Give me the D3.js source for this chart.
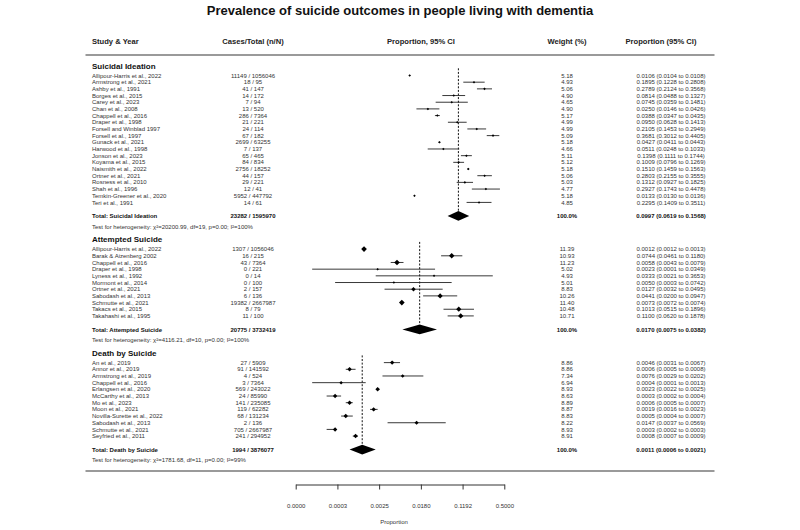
<!DOCTYPE html>
<html><head><meta charset="utf-8">
<script src="https://cdn.jsdelivr.net/npm/d3@7"></script>
<style>body{margin:0;background:#fff}svg{display:block}</style>
</head><body><svg id="c" width="800" height="530"></svg>
<script>
const title = "Prevalence of suicide outcomes in people living with dementia";
const headers = ["Study & Year", "Cases/Total (n/N)", "Proportion, 95% CI", "Weight (%)", "Proportion (95% CI)"];
const sectionNames = ["Suicidal Ideation", "Attempted Suicide", "Death by Suicide"];

// Suicidal ideation
const ideationStudies = ["Allipour-Harris et al., 2022","Armstrong et al., 2021","Ashby et al., 1991","Borges et al., 2015","Carey et al., 2023","Chan et al., 2008","Chappell et al., 2016","Draper et al., 1998","Forsell and Winblad 1997","Forsell et al., 1997","Gunack et al., 2021","Harwood et al., 1998","Jonson et al., 2023","Koyama et al., 2015","Naismith et al., 2022","Ortner et al., 2021","Rosness et al., 2010","Shah et al., 1996","Temkin-Greener et al., 2020","Teri et al., 1991"];
const ideationCases = [11149,18,41,14,7,13,286,21,24,67,2699,7,65,84,2756,44,29,12,5952,14];
const ideationTotals = [1056046,95,147,172,94,520,7364,221,114,182,63255,137,465,834,18252,157,221,41,447792,61];
const ideationWeights = [5.18,4.93,5.06,4.90,4.65,4.90,5.17,4.99,4.99,5.09,5.18,4.66,5.11,5.12,5.18,5.06,5.03,4.77,5.18,4.85];
const ideationProp = [0.0106,0.1895,0.2789,0.0814,0.0745,0.0250,0.0388,0.0950,0.2105,0.3681,0.0427,0.0511,0.1398,0.1009,0.1510,0.2803,0.1312,0.2927,0.0133,0.2295];
const ideationLower = [0.0104,0.1228,0.2124,0.0488,0.0359,0.0146,0.0347,0.0628,0.1453,0.3012,0.0411,0.0248,0.1111,0.0796,0.1459,0.2155,0.0927,0.1743,0.0130,0.1409];
const ideationUpper = [0.0108,0.2808,0.3568,0.1327,0.1481,0.0426,0.0435,0.1413,0.2949,0.4405,0.0443,0.1033,0.1744,0.1269,0.1563,0.3555,0.1825,0.4478,0.0136,0.3511];

// Attempted suicide
const attemptStudies = ["Allipour-Harris et al., 2022","Barak & Aizenberg 2002","Chappell et al., 2016","Draper et al., 1998","Lyness et al., 1992","Mormont et al., 2014","Ortner et al., 2021","Sabodash et al., 2013","Schmutte et al., 2021","Takacs et al., 2015","Takahashi et al., 1995"];
const attemptCases = [1307,16,43,0,0,0,2,6,19382,8,11];
const attemptTotals = [1056046,215,7364,221,14,100,157,136,2667987,79,100];
const attemptWeights = [11.39,10.93,11.23,5.02,4.93,5.01,8.83,10.26,11.40,10.48,10.71];
const attemptProp = [0.0012,0.0744,0.0058,0.0023,0.0333,0.0050,0.0127,0.0441,0.0073,0.1013,0.1100];
const attemptLower = [0.0012,0.0461,0.0043,0.0001,0.0021,0.0003,0.0032,0.0200,0.0072,0.0515,0.0620];
const attemptUpper = [0.0013,0.1180,0.0079,0.0349,0.3653,0.0742,0.0495,0.0947,0.0074,0.1896,0.1878];

// Death by suicide
const deathStudies = ["An et al., 2019","Annor et al., 2019","Armstrong et al., 2019","Chappell et al., 2016","Erlangsen et al., 2020","McCarthy et al., 2013","Mo et al., 2023","Moon et al., 2021","Novilla-Surette et al., 2022","Sabodash et al., 2013","Schmutte et al., 2021","Seyfried et al., 2011"];
const deathCases = [27,91,4,3,569,24,141,119,68,2,705,241];
const deathTotals = [5909,141592,524,7364,243022,85990,235085,62282,131234,136,2667987,294952];
const deathWeights = [8.86,8.86,7.34,6.94,8.93,8.63,8.89,8.87,8.83,8.22,8.93,8.91];
const deathProp = [0.0046,0.0006,0.0076,0.0004,0.0023,0.0003,0.0006,0.0019,0.0005,0.0147,0.0003,0.0008];
const deathLower = [0.0031,0.0005,0.0029,0.0001,0.0022,0.0002,0.0005,0.0016,0.0004,0.0037,0.0002,0.0007];
const deathUpper = [0.0067,0.0008,0.0202,0.0013,0.0025,0.0004,0.0007,0.0023,0.0007,0.0569,0.0003,0.0009];

// Pooled results per section
const pooledCases = [23282, 20775, 1994];
const pooledTotals = [1595970, 3732419, 3876077];
const pooledProp = [0.0997, 0.0170, 0.0011];
const pooledLower = [0.0619, 0.0075, 0.0006];
const pooledUpper = [0.1568, 0.0382, 0.0021];
const hetChi = ["20200.99", "4116.21", "1781.68"];
const hetDf = [19, 10, 11];
const hetP = ["0.00", "0.00", "0.00"];
const hetI2 = ["100%", "100%", "99%"];

// Axis (logit scale)
const tickValues = [-10, -8, -6, -4, -2, 0];
const tickLabels = ["0.0000", "0.0003", "0.0025", "0.0180", "0.1192", "0.5000"];
const axisTitle = "Proportion";

const sections = [
  {studies: ideationStudies, n: ideationCases, N: ideationTotals, w: ideationWeights, p: ideationProp, lo: ideationLower, hi: ideationUpper},
  {studies: attemptStudies, n: attemptCases, N: attemptTotals, w: attemptWeights, p: attemptProp, lo: attemptLower, hi: attemptUpper},
  {studies: deathStudies, n: deathCases, N: deathTotals, w: deathWeights, p: deathProp, lo: deathLower, hi: deathUpper}
];

const FONT = "'Liberation Sans', Arial, Helvetica, sans-serif";
const svg = d3.select("#c").style("font-family", FONT);
const logit = p => Math.log(p / (1 - p));
const x = d3.scaleLinear().domain([-10, 0]).range([295.7, 504.3]);
const f4 = d3.format(".4f");

const colX = {study: 92, cases: 253, weight: 567, prop: 671};
const ROW = 6.68;

// Title
svg.append("text").attr("x", 400).attr("y", 10).attr("dy", "0.35em")
  .attr("text-anchor", "middle").attr("font-size", 13).attr("font-weight", "bold")
  .attr("fill", "#111").text(title);

// Header
const hx = [[92, "start"], [253, "middle"], [421, "middle"], [567, "middle"], [661, "middle"]];
headers.forEach((h, i) => {
  svg.append("text").attr("x", hx[i][0]).attr("y", 41.5).attr("dy", "0.35em")
    .attr("text-anchor", hx[i][1]).attr("font-size", 7.6).attr("font-weight", "bold")
    .attr("fill", "#222").text(h);
});
svg.append("line").attr("x1", 85.5).attr("x2", 714.5).attr("y1", 55).attr("y2", 55)
  .attr("stroke", "#9a9a9a").attr("stroke-width", 2);

let y = 65.8;
sections.forEach((s, si) => {
  const headY = y;
  svg.append("text").attr("x", colX.study).attr("y", headY).attr("dy", "0.35em")
    .attr("font-size", 8).attr("font-weight", "bold").attr("fill", "#111").text(sectionNames[si]);
  const firstY = headY + 9.7;
  const g = svg.append("g");
  const rows = s.studies.map((name, i) => ({name, n: s.n[i], N: s.N[i], w: s.w[i], p: s.p[i], lo: s.lo[i], hi: s.hi[i], y: firstY + i * ROW}));
  const lastY = rows[rows.length - 1].y;
  const totY = lastY + 13.5;
  const hetY = totY + 10.5;

  // reference dashed line at pooled estimate
  const px = x(logit(pooledProp[si]));
  g.append("line").attr("x1", px).attr("x2", px).attr("y1", headY + 2.5).attr("y2", totY - 4.7)
    .attr("stroke", "#111").attr("stroke-width", 1).attr("stroke-dasharray", "2,1.6");

  const rg = g.selectAll("g.row").data(rows).join("g").attr("class", "row");
  rg.append("text").attr("x", colX.study).attr("y", d => d.y).attr("dy", "0.35em")
    .attr("font-size", 6).attr("fill", "#333").text(d => d.name);
  rg.append("text").attr("x", colX.cases).attr("y", d => d.y).attr("dy", "0.35em")
    .attr("text-anchor", "middle").attr("font-size", 6).attr("fill", "#333").text(d => d.n + " / " + d.N);
  rg.append("line").attr("x1", d => x(logit(d.lo))).attr("x2", d => x(logit(d.hi)))
    .attr("y1", d => d.y).attr("y2", d => d.y).attr("stroke", "#222").attr("stroke-width", 0.9);
  rg.append("path").attr("d", d => {
      const cx = x(logit(d.p)), r = Math.max(1.2, d.w * 0.25);
      return `M${cx - r},${d.y}L${cx},${d.y - r}L${cx + r},${d.y}L${cx},${d.y + r}Z`;
    }).attr("fill", "#000");
  rg.append("text").attr("x", colX.weight).attr("y", d => d.y).attr("dy", "0.35em")
    .attr("text-anchor", "middle").attr("font-size", 6).attr("fill", "#333").text(d => d.w.toFixed(2));
  rg.append("text").attr("x", colX.prop).attr("y", d => d.y).attr("dy", "0.35em")
    .attr("text-anchor", "middle").attr("font-size", 6).attr("fill", "#333")
    .text(d => `${f4(d.p)} (${f4(d.lo)} to ${f4(d.hi)})`);

  // total row
  svg.append("text").attr("x", colX.study).attr("y", totY).attr("dy", "0.35em")
    .attr("font-size", 6).attr("font-weight", "bold").attr("fill", "#111").text("Total: " + sectionNames[si]);
  svg.append("text").attr("x", colX.cases).attr("y", totY).attr("dy", "0.35em").attr("text-anchor", "middle")
    .attr("font-size", 6).attr("font-weight", "bold").attr("fill", "#111").text(pooledCases[si] + " / " + pooledTotals[si]);
  const dl = x(logit(pooledLower[si])), dh = x(logit(pooledUpper[si]));
  svg.append("path").attr("d", `M${dl},${totY}L${px},${totY - 4.8}L${dh},${totY}L${px},${totY + 4.8}Z`).attr("fill", "#000");
  svg.append("text").attr("x", colX.weight).attr("y", totY).attr("dy", "0.35em").attr("text-anchor", "middle")
    .attr("font-size", 6).attr("font-weight", "bold").attr("fill", "#111").text("100.0%");
  svg.append("text").attr("x", colX.prop).attr("y", totY).attr("dy", "0.35em").attr("text-anchor", "middle")
    .attr("font-size", 6).attr("font-weight", "bold").attr("fill", "#111")
    .text(`${f4(pooledProp[si])} (${f4(pooledLower[si])} to ${f4(pooledUpper[si])})`);
  svg.append("text").attr("x", colX.study).attr("y", hetY).attr("dy", "0.35em")
    .attr("font-size", 6).attr("fill", "#333")
    .text(`Test for heterogeneity: \u03C7\u00B2=${hetChi[si]}, df=${hetDf[si]}, p=${hetP[si]}; I\u00B2=${hetI2[si]}`);

  y = hetY + 13;
});

// bottom separator
svg.append("line").attr("x1", 85.5).attr("x2", 714.5).attr("y1", 471).attr("y2", 471)
  .attr("stroke", "#9a9a9a").attr("stroke-width", 2);

// axis
const axis = d3.axisBottom(x).tickValues(tickValues).tickFormat((d, i) => tickLabels[i])
  .tickSize(5).tickSizeOuter(0).tickPadding(14);
const ag = svg.append("g").attr("transform", "translate(0,484.5)").call(axis);
ag.selectAll("text").attr("font-size", 6).attr("fill", "#333").style("font-family", FONT);
ag.selectAll("line,path").attr("stroke", "#333");
svg.append("text").attr("x", 394).attr("y", 521.7).attr("dy", "0.35em").attr("text-anchor", "middle")
  .attr("font-size", 6).attr("fill", "#333").text(axisTitle);
</script></body></html>
